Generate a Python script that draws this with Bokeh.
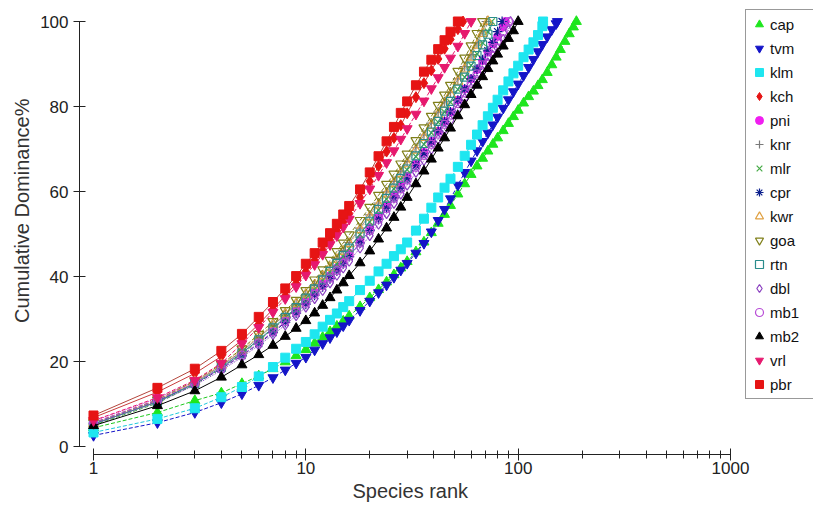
from bokeh.plotting import figure
from bokeh.models import Range1d, FixedTicker, Legend, LegendItem, Title
from bokeh.embed import file_html
from bokeh.resources import INLINE

RANKS = [1, 2, 3, 4, 5, 6, 7, 8, 9, 10, 11, 12, 13, 14, 15, 16, 18, 20, 22, 24, 26, 28, 30,
         33, 36, 39, 42, 45, 48, 52, 56, 60, 64, 68, 72, 76, 80, 85, 90, 95, 100, 106, 112,
         118, 124, 130, 137, 144, 151, 158, 166, 174, 182]

SERIES = ["cap", "tvm", "klm", "kch", "pni", "knr", "mlr", "cpr",
          "kwr", "goa", "rtn", "dbl", "mb1", "mb2", "vrl", "pbr"]

# number of species (rank at which cumulative dominance reaches 100 %)
N_SPECIES = [188, 153, 131, 55, 87, 71, 75, 84, 72, 68, 76, 92, 90, 100, 60, 52]

cap = [4.4, 8.0, 10.8, 12.6, 14.8, 16.6, 18.3, 19.9, 21.4, 22.8, 24.3, 25.7, 27.0, 28.3, 29.5, 30.7,
       32.9, 35.0, 36.9, 38.7, 40.4, 42.0, 43.5, 45.8, 48.1, 50.3, 52.5, 54.6, 56.7, 59.4, 61.8,
       64.0, 66.0, 67.8, 69.5, 71.1, 72.6, 74.3, 76.0, 77.6, 79.1, 80.8, 82.3, 83.6, 84.9, 86.3,
       88.0, 89.8, 91.6, 93.4, 95.3, 97.1, 98.7]
tvm = [2.6, 5.6, 8.0, 10.3, 12.4, 14.4, 16.2, 18.0, 19.6, 21.0, 22.7, 24.2, 25.6, 27.0, 28.4, 29.7,
       32.0, 34.2, 36.2, 38.0, 39.8, 41.5, 43.1, 45.5, 47.8, 50.5, 53.2, 55.8, 58.3, 61.5, 64.5,
       67.2, 69.6, 71.8, 73.8, 75.7, 77.5, 79.6, 81.6, 83.5, 85.3, 87.3, 89.2, 91.1, 92.9, 94.6,
       96.4, 98.1, 99.5]
klm = [3.3, 6.5, 9.0, 11.6, 14.0, 16.5, 18.7, 20.9, 23.0, 24.6, 26.4, 28.2, 29.8, 31.3, 32.8, 34.2,
       36.8, 39.0, 41.2, 43.0, 44.8, 46.4, 48.0, 50.8, 53.6, 56.2, 58.6, 60.9, 63.0, 65.8, 68.4,
       71.0, 73.4, 75.6, 77.7, 79.7, 81.6, 83.8, 85.9, 87.8, 89.6, 91.6, 93.4, 95.1, 96.8, 98.9]
kch = [6.8, 12.8, 17.2, 21.2, 25.0, 28.8, 32.3, 35.5, 38.4, 41.2, 43.8, 46.2, 48.5, 50.7, 52.8, 54.8,
       58.6, 62.4, 66.0, 69.4, 72.6, 75.6, 78.4, 82.2, 85.5, 88.5, 91.2, 93.6, 95.8, 98.2]
pni = [6.0, 11.3, 15.3, 18.9, 22.1, 25.0, 27.6, 30.0, 32.2, 34.2, 36.3, 38.3, 40.2, 42.0, 43.8, 45.5,
       48.7, 51.5, 54.2, 56.8, 59.2, 61.5, 63.6, 66.5, 69.2, 71.8, 74.2, 76.5, 78.7, 81.5, 84.1,
       86.5, 88.7, 90.8, 92.8, 94.7, 96.5, 98.7]
knr = [5.2, 10.6, 15.0, 19.0, 22.4, 25.6, 28.5, 31.0, 33.4, 35.6, 37.9, 40.1, 42.2, 44.2, 46.1, 48.0,
       51.4, 54.5, 57.3, 59.9, 62.4, 64.8, 67.1, 70.3, 73.3, 76.1, 78.7, 81.1, 83.4, 86.5, 89.4,
       92.2, 95.0, 97.8]
mlr = [5.0, 10.2, 14.6, 18.4, 21.8, 24.9, 27.7, 30.2, 32.5, 34.7, 36.9, 39.0, 41.0, 42.9, 44.7, 46.5,
       49.8, 52.8, 55.6, 58.2, 60.6, 62.9, 65.1, 68.2, 71.1, 73.8, 76.3, 78.7, 81.0, 84.0, 86.9,
       89.7, 92.4, 95.0, 97.6]
cpr = [5.5, 10.8, 14.8, 18.3, 21.4, 24.2, 26.8, 29.2, 31.4, 33.5, 35.6, 37.6, 39.5, 41.3, 43.0, 44.7,
       47.9, 50.8, 53.5, 56.1, 58.5, 60.8, 63.0, 66.1, 69.0, 71.7, 74.2, 76.5, 78.7, 81.5, 84.1,
       86.5, 88.8, 91.0, 93.1, 95.1, 97.6]
kwr = [5.4, 10.8, 15.2, 19.2, 22.7, 25.9, 28.7, 31.2, 33.6, 35.8, 38.0, 40.1, 42.1, 44.0, 45.9, 47.7,
       51.0, 54.0, 56.8, 59.4, 61.9, 64.2, 66.5, 69.7, 72.7, 75.5, 78.1, 80.5, 82.8, 85.9, 88.8,
       91.6, 94.4, 97.2]
goa = [5.6, 11.0, 15.4, 19.4, 23.0, 26.4, 29.4, 32.0, 34.4, 36.7, 39.2, 41.6, 43.8, 45.9, 47.9, 49.8,
       53.2, 56.3, 59.1, 61.7, 64.1, 66.5, 68.8, 72.0, 75.0, 77.7, 80.3, 82.7, 85.0, 88.3, 91.4,
       94.3, 97.2]
rtn = [5.3, 10.5, 14.8, 18.6, 22.0, 25.1, 27.9, 30.4, 32.7, 34.9, 37.1, 39.2, 41.2, 43.1, 44.9, 46.7,
       50.0, 53.0, 55.8, 58.4, 60.8, 63.1, 65.3, 68.4, 71.3, 74.0, 76.5, 78.9, 81.2, 84.1, 86.9,
       89.5, 92.0, 94.5, 97.0]
dbl = [5.3, 10.4, 14.4, 17.9, 21.0, 23.8, 26.3, 28.6, 30.8, 32.8, 34.8, 36.7, 38.5, 40.3, 42.0, 43.6,
       46.7, 49.6, 52.3, 54.8, 57.2, 59.4, 61.5, 64.5, 67.3, 69.9, 72.3, 74.6, 76.7, 79.4, 81.9,
       84.2, 86.3, 88.3, 90.2, 92.0, 93.7, 95.8, 97.9]
mb1 = [5.6, 10.9, 14.9, 18.4, 21.5, 24.4, 27.0, 29.4, 31.6, 33.7, 35.8, 37.8, 39.6, 41.4, 43.1, 44.8,
       47.9, 50.8, 53.5, 56.0, 58.4, 60.6, 62.7, 65.7, 68.5, 71.1, 73.5, 75.8, 78.0, 80.7, 83.2,
       85.5, 87.7, 89.8, 91.8, 93.7, 95.5, 97.7]
mb2 = [4.9, 9.6, 13.1, 16.3, 19.2, 21.6, 23.8, 25.9, 27.8, 29.6, 31.4, 33.2, 35.0, 36.8, 38.5, 40.2,
       43.2, 46.0, 48.8, 51.4, 53.9, 56.3, 58.6, 61.8, 64.8, 67.6, 70.2, 72.6, 74.9, 77.8, 80.4,
       82.8, 85.0, 87.0, 88.9, 90.7, 92.3, 94.2, 96.0, 97.8]
vrl = [6.1, 11.5, 15.6, 19.6, 24.2, 28.0, 31.6, 34.8, 37.6, 40.3, 42.8, 45.2, 47.5, 49.6, 51.6, 53.5,
       57.2, 60.6, 63.8, 66.8, 69.6, 72.3, 74.8, 78.2, 81.3, 84.2, 86.8, 89.2, 91.4, 94.2, 97.2]
pbr = [7.3, 13.8, 18.3, 22.5, 26.5, 30.5, 34.0, 37.2, 40.1, 43.0, 45.5, 48.0, 50.2, 52.4, 54.6, 56.6,
       60.5, 64.5, 68.3, 71.8, 75.2, 78.5, 81.2, 85.0, 88.2, 91.0, 93.5, 95.6, 97.6]

VALUES = [cap, tvm, klm, kch, pni, knr, mlr, cpr, kwr, goa, rtn, dbl, mb1, mb2, vrl, pbr]

# styles: (marker, color, filled, marker size, line color, line dash)
STYLES = {
    "cap": ("triangle", "#1EE61E", True, 10, "#1EC81E", "4 2"),
    "tvm": ("inverted_triangle", "#1414C8", True, 10, "#1414C8", "4 2"),
    "klm": ("square", "#1EE6F0", True, 9, "#1EC8DC", "4 2"),
    "kch": ("diamond", "#E61414", True, 11, "#C83C3C", "solid"),
    "pni": ("circle", "#F01EF0", True, 8, "#D21ED2", "1 1"),
    "knr": ("cross", "#7A7A7A", False, 10, "#8C8C8C", "solid"),
    "mlr": ("x", "#46AA46", False, 9, "#46AA46", "4 2"),
    "cpr": ("asterisk", "#0A1E8C", False, 10, "#0A1E8C", "4 2"),
    "kwr": ("triangle", "#E0A040", False, 10, "#E0A040", "1 1"),
    "goa": ("inverted_triangle", "#80801A", False, 10, "#80801A", "4 2"),
    "rtn": ("square", "#2A8C8C", False, 8, "#2A8C8C", "solid"),
    "dbl": ("diamond", "#8A3FC0", False, 10, "#8A3FC0", "1 1"),
    "mb1": ("circle", "#B84CD6", False, 8, "#B84CD6", "4 2"),
    "mb2": ("triangle", "#000000", True, 10, "#000000", "solid"),
    "vrl": ("inverted_triangle", "#E6196E", True, 10, "#E6196E", "4 2"),
    "pbr": ("square", "#E61414", True, 9, "#B4463C", "solid"),
}

FONT = "Liberation Sans"

# frame runs to the right edge so the legend (inside it) is cut off like the reference
p = figure(width=813, height=506, x_axis_type="log",
           x_range=Range1d(0.859, 2460), y_range=Range1d(-1.88, 103.06),
           output_backend="svg", toolbar_location=None,
           min_border_left=79, min_border_right=0, min_border_top=8, min_border_bottom=52)

p.outline_line_color = None
p.xgrid.grid_line_color = None
p.ygrid.grid_line_color = None
p.background_fill_color = "white"
p.border_fill_color = "white"

items = []
for name, vals, n in zip(SERIES, VALUES, N_SPECIES):
    ranks = [r for r in RANKS if r < n][:len(vals)] + [n]
    ys = list(vals) + [100.0]
    marker, color, filled, size, lcolor, dash = STYLES[name]
    p.line(ranks, ys, line_color=lcolor, line_width=1, line_dash=dash)
    r = p.scatter(ranks, ys, marker=marker, size=size, line_color=color,
                  fill_color=color if filled else None, line_width=1.2 if not filled else 1)
    items.append(LegendItem(label=name, renderers=[r]))

# axes
xa = p.xaxis[0]
xa.bounds = (1, 1000)
xa.ticker = FixedTicker(ticks=[1, 10, 100, 1000],
                        minor_ticks=[2, 3, 4, 5, 6, 7, 8, 9, 20, 30, 40, 50, 60, 70, 80, 90,
                                     200, 300, 400, 500, 600, 700, 800, 900])
xa.major_label_overrides = {1: "1", 10: "10", 100: "100", 1000: "1000"}

ya = p.yaxis[0]
ya.bounds = (0, 100)
ya.ticker = FixedTicker(ticks=[0, 20, 40, 60, 80, 100], minor_ticks=[])

for ax in (xa, ya):
    ax.axis_line_color = "#222222"
    ax.major_tick_line_color = "#222222"
    ax.minor_tick_line_color = "#222222"
    ax.major_tick_in = 6
    ax.major_tick_out = 6
    ax.minor_tick_in = 4
    ax.minor_tick_out = 4
    ax.major_label_text_font = FONT
    ax.major_label_text_font_size = "17px"
    ax.major_label_text_color = "#222222"

xa.major_label_standoff = 1
ya.major_label_standoff = 5

xtitle = Title(text="Species rank", align="left", offset=273,
               text_font=FONT, text_font_size="20px", text_font_style="normal",
               text_color="#333333", standoff=2)
p.add_layout(xtitle, "below")

ytitle = Title(text="Cumulative Dominance%", align="right", offset=90,
               text_font=FONT, text_font_size="20px", text_font_style="normal",
               text_color="#333333", standoff=10)
p.add_layout(ytitle, "left")

legend = Legend(items=items, location=(666, 55), orientation="vertical",
                label_text_font=FONT, label_text_font_size="15px", label_text_color="#111111",
                glyph_width=20, glyph_height=22, label_height=22, label_width=49,
                spacing=2, padding=3, label_standoff=1, margin=0,
                border_line_color="#333333", border_line_width=1,
                background_fill_color="white", background_fill_alpha=1.0)
p.add_layout(legend)

open("out.html", "w").write(file_html(p, INLINE))
